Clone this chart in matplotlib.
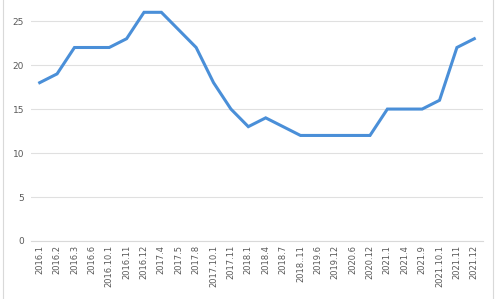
import matplotlib.pyplot as plt
from matplotlib.patches import Rectangle

labels = ['2016.1', '2016.2', '2016.3', '2016.6', '2016.10.1', '2016.11', '2016.12',
          '2017.4', '2017.5', '2017.8', '2017.10.1', '2017.11', '2018.1', '2018.4',
          '2018.7', '2018..11', '2019.6', '2019.12', '2020.6', '2020.12', '2021.1',
          '2021.4', '2021.9', '2021.10.1', '2021.11', '2021.12']
values = [18, 19, 22, 22, 22, 23, 26, 26, 24, 22, 18, 15, 13, 14, 13, 12, 12, 12,
          12, 12, 15, 15, 15, 16, 22, 23]

fig = plt.figure(figsize=(5, 2.99), dpi=100)
ax = fig.add_axes([0.062, 0.194, 0.904, 0.806])

x = list(range(len(values)))
ax.plot(x, values, color='#4a8fd8', linewidth=2.2, solid_joinstyle='miter')

ax.set_xlim(-0.5, len(values) - 0.5)
ax.set_ylim(0, 27.4)
ax.set_yticks([0, 5, 10, 15, 20, 25])
ax.set_xticks(x)
ax.set_xticklabels(labels, rotation=90, fontsize=6, color='#595959')
ax.tick_params(axis='y', labelsize=6.5, colors='#595959', length=0, pad=5)
ax.tick_params(axis='x', length=0, pad=3)

ax.grid(axis='y', color='#e0e0e0', linewidth=0.8)
ax.set_axisbelow(True)
for s in ['top', 'right', 'left']:
    ax.spines[s].set_visible(False)
ax.spines['bottom'].set_color('#d9d9d9')

# outer chart border
fig.patches.append(Rectangle((0.006, -0.01), 0.98, 1.02, transform=fig.transFigure,
                             fill=False, edgecolor='#d9d9d9', linewidth=0.8))

fig.savefig('out.png', dpi=100)
